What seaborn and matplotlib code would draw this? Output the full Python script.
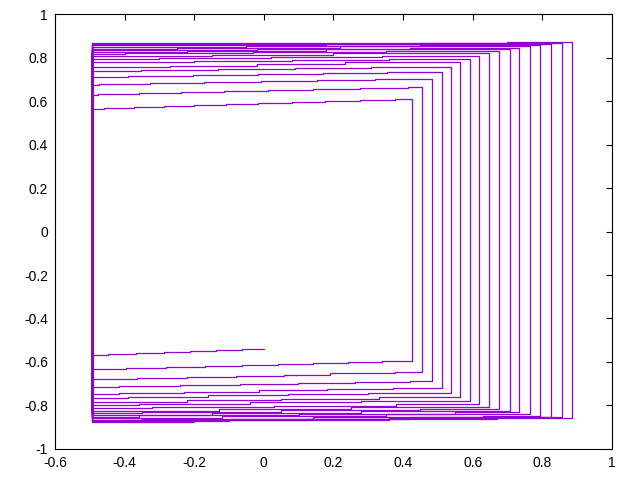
import numpy as np
import pandas as pd
import matplotlib
matplotlib.use("Agg")
import matplotlib.pyplot as plt
import seaborn as sns
from matplotlib.ticker import FuncFormatter, MultipleLocator

# step breakpoints of each run of the spiral
# bottom runs go right -> left, top runs go left -> right
B0_x = [0.0, -0.062, -0.137, -0.211, -0.287, -0.366, -0.447, -0.495]
B0_y = [-0.540, -0.545, -0.550, -0.555, -0.559, -0.564, -0.569, -0.569]

T1_x = [-0.495, -0.458, -0.372, -0.287, -0.201, -0.109, -0.017, 0.080, 0.175, 0.275, 0.378, 0.425]
T1_y = [0.563, 0.567, 0.571, 0.575, 0.580, 0.584, 0.589, 0.594, 0.598, 0.603, 0.609, 0.609]
B1_x = [0.425, 0.339, 0.242, 0.141, 0.041, -0.063, -0.170, -0.281, -0.395, -0.495]
B1_y = [-0.594, -0.599, -0.604, -0.609, -0.614, -0.619, -0.624, -0.629, -0.634, -0.634]

T2_x = [-0.495, -0.477, -0.359, -0.237, -0.114, 0.012, 0.141, 0.275, 0.415, 0.454]
T2_y = [0.626, 0.630, 0.635, 0.640, 0.645, 0.650, 0.655, 0.659, 0.663, 0.663]
B2_x = [0.454, 0.377, 0.191, 0.057, -0.080, -0.221, -0.364, -0.495]
B2_y = [-0.647, -0.652, -0.658, -0.664, -0.669, -0.675, -0.680, -0.680]

T3_x = [-0.495, -0.474, -0.326, -0.171, -0.009, 0.153, 0.320, 0.482]
T3_y = [0.672, 0.676, 0.681, 0.686, 0.691, 0.696, 0.701, 0.701]
B3_x = [0.482, 0.420, 0.263, 0.098, -0.068, -0.240, -0.416, -0.495]
B3_y = [-0.687, -0.692, -0.697, -0.702, -0.707, -0.712, -0.716, -0.716]

T4_x = [-0.495, -0.390, -0.203, -0.017, 0.169, 0.355, 0.511]
T4_y = [0.709, 0.714, 0.719, 0.724, 0.729, 0.733, 0.733]
B4_x = [0.511, 0.372, 0.181, -0.014, -0.230, -0.416, -0.495]
B4_y = [-0.721, -0.726, -0.731, -0.736, -0.741, -0.746, -0.746]

T5_x = [-0.495, -0.352, -0.132, 0.089, 0.309, 0.537]
T5_y = [0.737, 0.742, 0.747, 0.752, 0.756, 0.756]
B5_x = [0.537, 0.30, 0.07, -0.16, -0.39, -0.495]
B5_y = [-0.744, -0.749, -0.754, -0.759, -0.767, -0.767]

T6_x = [-0.495, -0.271, -0.020, 0.232, 0.565]
T6_y = [0.756, 0.763, 0.770, 0.778, 0.778]
B6_x = [0.565, 0.33, 0.05, -0.22, -0.495]
B6_y = [-0.762, -0.770, -0.777, -0.785, -0.785]

T7_x = [-0.495, -0.20, 0.08, 0.36, 0.592]
T7_y = [0.778, 0.783, 0.788, 0.793, 0.793]
B7_x = [0.592, 0.28, -0.04, -0.36, -0.495]
B7_y = [-0.779, -0.786, -0.793, -0.799, -0.799]

T8_x = [-0.495, -0.30, 0.02, 0.34, 0.619]
T8_y = [0.793, 0.798, 0.803, 0.807, 0.807]
B8_x = [0.619, 0.38, 0.03, -0.32, -0.495]
B8_y = [-0.795, -0.801, -0.807, -0.813, -0.813]

T9_x = [-0.495, -0.15, 0.20, 0.648]
T9_y = [0.805, 0.812, 0.819, 0.819]
B9_x = [0.648, 0.25, -0.13, -0.495]
B9_y = [-0.806, -0.815, -0.825, -0.825]

T10_x = [-0.495, -0.40, -0.03, 0.35, 0.676]
T10_y = [0.816, 0.820, 0.824, 0.828, 0.828]
B10_x = [0.676, 0.45, 0.05, -0.35, -0.495]
B10_y = [-0.816, -0.822, -0.828, -0.834, -0.834]

T11_x = [-0.495, -0.22, 0.18, 0.706]
T11_y = [0.825, 0.831, 0.838, 0.838]
B11_x = [0.706, 0.28, -0.15, -0.495]
B11_y = [-0.824, -0.834, -0.844, -0.844]

T12_x = [-0.495, -0.45, -0.02, 0.42, 0.734]
T12_y = [0.833, 0.836, 0.839, 0.842, 0.842]
B12_x = [0.734, 0.55, 0.10, -0.36, -0.495]
B12_y = [-0.831, -0.838, -0.845, -0.851, -0.851]

T13_x = [-0.495, -0.25, 0.22, 0.764]
T13_y = [0.841, 0.846, 0.851, 0.851]
B13_x = [0.764, 0.35, -0.12, -0.495]
B13_y = [-0.841, -0.850, -0.859, -0.859]

T14_x = [-0.495, -0.05, 0.45, 0.793]
T14_y = [0.848, 0.853, 0.857, 0.857]
B14_x = [0.793, 0.63, 0.14, -0.35, -0.495]
B14_y = [-0.847, -0.854, -0.861, -0.867, -0.867]

T15_x = [-0.495, -0.33, 0.18, 0.70, 0.824]
T15_y = [0.856, 0.858, 0.860, 0.862, 0.862]
B15_x = [0.824, 0.42, -0.10, -0.495]
B15_y = [-0.851, -0.861, -0.870, -0.870]

T16_x = [-0.495, -0.10, 0.45, 0.857]
T16_y = [0.862, 0.864, 0.865, 0.865]
B16_x = [0.857, 0.67, 0.12, -0.41, -0.495]
B16_y = [-0.854, -0.860, -0.866, -0.872, -0.872]

T17_x = [-0.495, -0.40, 0.15, 0.70, 0.885]
T17_y = [0.865, 0.867, 0.869, 0.870, 0.870]
B17_x = [0.885, 0.36, -0.20, -0.495]
B17_y = [-0.859, -0.866, -0.874, -0.874]

runs = [
    (B0_x, B0_y),
    (T1_x, T1_y), (B1_x, B1_y), (T2_x, T2_y), (B2_x, B2_y),
    (T3_x, T3_y), (B3_x, B3_y), (T4_x, T4_y), (B4_x, B4_y),
    (T5_x, T5_y), (B5_x, B5_y), (T6_x, T6_y), (B6_x, B6_y),
    (T7_x, T7_y), (B7_x, B7_y), (T8_x, T8_y), (B8_x, B8_y),
    (T9_x, T9_y), (B9_x, B9_y), (T10_x, T10_y), (B10_x, B10_y),
    (T11_x, T11_y), (B11_x, B11_y), (T12_x, T12_y), (B12_x, B12_y),
    (T13_x, T13_y), (B13_x, B13_y), (T14_x, T14_y), (B14_x, B14_y),
    (T15_x, T15_y), (B15_x, B15_y), (T16_x, T16_y), (B16_x, B16_y),
    (T17_x, T17_y), (B17_x, B17_y),
]

df = pd.DataFrame({
    "x": [v for rx, ry in runs for v in rx],
    "y": [v for rx, ry in runs for v in ry],
})

sns.set_style("white")
plt.rcParams["font.family"] = ["Liberation Sans", "DejaVu Sans"]

fig = plt.figure(figsize=(6.4, 4.8), dpi=100)
ax = fig.add_axes([0.086, 0.0646, 0.870, 0.9062])

sns.lineplot(data=df, x="x", y="y", sort=False, estimator=None,
             drawstyle="steps-post", color="#9400D3", linewidth=0.9, ax=ax)

ax.set_xlim(-0.6, 1)
ax.set_ylim(-1, 1)
ax.xaxis.set_major_locator(MultipleLocator(0.2))
ax.yaxis.set_major_locator(MultipleLocator(0.2))
fmt = FuncFormatter(lambda v, p: f"{round(v, 6):g}")
ax.xaxis.set_major_formatter(fmt)
ax.yaxis.set_major_formatter(fmt)
ax.tick_params(direction="in", length=4.5, width=0.8, colors="black",
               labelsize=10, top=True, right=True, pad=5)
ax.set_xlabel("")
ax.set_ylabel("")
for s in ax.spines.values():
    s.set_visible(True)
    s.set_color("black")
    s.set_linewidth(0.8)

fig.savefig("out.png", dpi=100)
